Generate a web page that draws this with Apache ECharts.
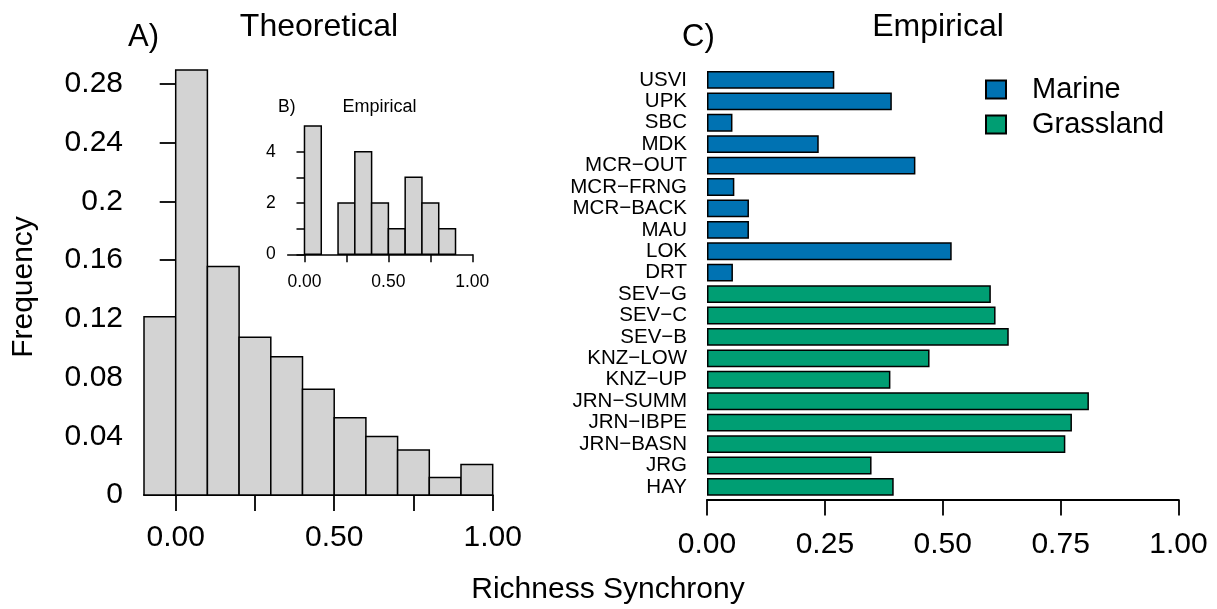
<!DOCTYPE html>
<html>
<head>
<meta charset="utf-8">
<script src="https://cdn.jsdelivr.net/npm/echarts@6/dist/echarts.min.js"></script>
<style>
html,body{margin:0;padding:0;background:#fff;}
#chart{width:1217px;height:609px;}
</style>
</head>
<body>
<div id="chart"></div>
<script>
// ---- data ----
const binEdges = [-0.1, 0, 0.1, 0.2, 0.3, 0.4, 0.5, 0.6, 0.7, 0.8, 0.9, 1.0];
const theoreticalFreq = [0.1215, 0.2895, 0.1556, 0.1074, 0.0942, 0.0721, 0.0526, 0.0399, 0.0307, 0.0119, 0.0207];
const empiricalCounts = [0, 5, 0, 2, 4, 2, 1, 3, 2, 1, 0];
const histTicks = [0, 0.25, 0.5, 0.75, 1.0];
const histLabels = [0, 0.5, 1.0];
const sites = ['USVI','UPK','SBC','MDK','MCR\u2212OUT','MCR\u2212FRNG','MCR\u2212BACK','MAU','LOK','DRT',
               'SEV\u2212G','SEV\u2212C','SEV\u2212B','KNZ\u2212LOW','KNZ\u2212UP','JRN\u2212SUMM','JRN\u2212IBPE','JRN\u2212BASN','JRG','HAY'];
const marineSync = [0.270, 0.392, 0.054, 0.237, 0.442, 0.058, 0.089, 0.089, 0.519, 0.055,
                    null, null, null, null, null, null, null, null, null, null];
const grassSync = [null, null, null, null, null, null, null, null, null, null,
                   0.602, 0.612, 0.640, 0.472, 0.389, 0.810, 0.774, 0.760, 0.349, 0.396];

const FONT = "'Liberation Sans', Arial, Helvetica, sans-serif";
const BLACK = '#000';

function histData(vals) {
  return vals.map((v, i) => [binEdges[i], binEdges[i + 1], v]);
}
function histRender(params, api) {
  const p0 = api.coord([api.value(0), 0]);
  const p1 = api.coord([api.value(1), api.value(2)]);
  return {
    type: 'rect',
    shape: { x: p0[0], y: p1[1], width: p1[0] - p0[0], height: p0[1] - p1[1] },
    style: { fill: '#D3D3D3', stroke: BLACK, lineWidth: 1.5 }
  };
}

const chart = echarts.init(document.getElementById('chart'), null, { renderer: 'canvas' });

const option = {
  animation: false,
  backgroundColor: '#fff',
  textStyle: { fontFamily: FONT, color: BLACK },
  grid: [
    { left: 144, top: 84, right: 1217 - 492.7, bottom: 609 - 495 },
    { left: 287.7, top: 151.7, right: 1217 - 472.3, bottom: 609 - 254.3 },
    { left: 707, top: 69.2, right: 1217 - 1178.5, bottom: 609 - 497.6 }
  ],
  xAxis: [
    {
      gridIndex: 0, type: 'value', min: -0.1, max: 1.0,
      splitLine: { show: false },
      axisLine: { show: true, lineStyle: { color: BLACK, width: 1.8 } },
      axisTick: { show: true, length: 16, customValues: histTicks, lineStyle: { color: BLACK, width: 1.8 } },
      axisLabel: { customValues: histLabels, formatter: v => v.toFixed(2), fontSize: 30, color: BLACK, margin: 28, fontFamily: FONT }
    },
    {
      gridIndex: 1, type: 'value', min: -0.1, max: 1.0,
      splitLine: { show: false },
      axisLine: { show: true, lineStyle: { color: BLACK, width: 1.5 } },
      axisTick: { show: true, length: 8, customValues: histTicks, lineStyle: { color: BLACK, width: 1.5 } },
      axisLabel: { customValues: histLabels, formatter: v => v.toFixed(2), fontSize: 17.5, color: BLACK, margin: 19, fontFamily: FONT }
    },
    {
      gridIndex: 2, type: 'value', min: 0, max: 1.0, interval: 0.25, offset: 2,
      splitLine: { show: false },
      axisLine: { show: true, lineStyle: { color: BLACK, width: 1.8 } },
      axisTick: { show: true, length: 16, lineStyle: { color: BLACK, width: 1.8 } },
      axisLabel: { formatter: v => v.toFixed(2), fontSize: 30, color: BLACK, margin: 30, fontFamily: FONT }
    }
  ],
  yAxis: [
    {
      gridIndex: 0, type: 'value', min: 0, max: 0.28, interval: 0.04,
      splitLine: { show: false },
      axisLine: { show: true, lineStyle: { color: BLACK, width: 1.8 } },
      axisTick: { show: true, length: 16, lineStyle: { color: BLACK, width: 1.8 } },
      axisLabel: { fontSize: 30, color: BLACK, margin: 21, fontFamily: FONT }
    },
    {
      gridIndex: 1, type: 'value', min: 0, max: 4, interval: 1,
      splitLine: { show: false },
      axisLine: { show: true, lineStyle: { color: BLACK, width: 1.5 } },
      axisTick: { show: true, length: 8, lineStyle: { color: BLACK, width: 1.5 } },
      axisLabel: { formatter: v => (v % 2 === 0 ? String(v) : ''), fontSize: 17.5, color: BLACK, margin: 12, fontFamily: FONT }
    },
    {
      gridIndex: 2, type: 'category', data: sites, inverse: true,
      axisLine: { show: false }, axisTick: { show: false }, splitLine: { show: false },
      axisLabel: { fontSize: 20.5, color: BLACK, margin: 20, fontFamily: FONT, interval: 0 }
    }
  ],
  legend: {
    data: ['Marine', 'Grassland'],
    orient: 'vertical', left: 980, top: 70,
    itemWidth: 20, itemHeight: 18, itemGap: 6,
    icon: 'rect',
    textStyle: { fontSize: 29, color: BLACK, fontFamily: FONT, padding: [0, 0, 0, 21] }
  },
  series: [
    {
      type: 'custom', xAxisIndex: 0, yAxisIndex: 0, clip: false,
      renderItem: histRender, data: histData(theoreticalFreq),
      encode: { x: [0, 1], y: 2 }
    },
    {
      type: 'custom', xAxisIndex: 1, yAxisIndex: 1, clip: false,
      renderItem: histRender, data: histData(empiricalCounts).filter(d => d[2] > 0),
      encode: { x: [0, 1], y: 2 }
    },
    {
      name: 'Marine', type: 'bar', xAxisIndex: 2, yAxisIndex: 2,
      data: marineSync, barCategoryGap: '16.7%', barGap: '-100%',
      itemStyle: { color: '#0072B2', borderColor: BLACK, borderWidth: 1.5 }
    },
    {
      name: 'Grassland', type: 'bar', xAxisIndex: 2, yAxisIndex: 2,
      data: grassSync, barCategoryGap: '16.7%', barGap: '-100%',
      itemStyle: { color: '#009E73', borderColor: BLACK, borderWidth: 1.5 }
    }
  ],
  graphic: [
    { type: 'text', x: 128, y: 37, style: { text: 'A)', font: '31px ' + FONT, fill: BLACK, textAlign: 'left', textVerticalAlign: 'middle' } },
    { type: 'text', x: 319, y: 27, style: { text: 'Theoretical', font: '32px ' + FONT, fill: BLACK, textAlign: 'center', textVerticalAlign: 'middle' } },
    { type: 'text', x: 278, y: 107, style: { text: 'B)', font: '17.5px ' + FONT, fill: BLACK, textAlign: 'left', textVerticalAlign: 'middle' } },
    { type: 'text', x: 379.5, y: 107, style: { text: 'Empirical', font: '18px ' + FONT, fill: BLACK, textAlign: 'center', textVerticalAlign: 'middle' } },
    { type: 'text', x: 682, y: 37, style: { text: 'C)', font: '31px ' + FONT, fill: BLACK, textAlign: 'left', textVerticalAlign: 'middle' } },
    { type: 'text', x: 938, y: 27, style: { text: 'Empirical', font: '32px ' + FONT, fill: BLACK, textAlign: 'center', textVerticalAlign: 'middle' } },
    { type: 'text', x: 24, y: 287, rotation: Math.PI / 2, style: { text: 'Frequency', font: '30px ' + FONT, fill: BLACK, textAlign: 'center', textVerticalAlign: 'middle' } },
    { type: 'text', x: 608, y: 590, style: { text: 'Richness Synchrony', font: '30px ' + FONT, fill: BLACK, textAlign: 'center', textVerticalAlign: 'middle' } }
  ]
};
chart.setOption(option);
</script>
</body>
</html>
